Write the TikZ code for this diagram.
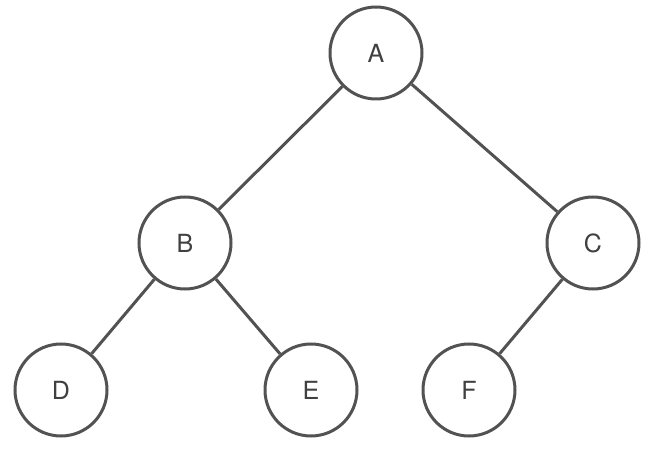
\documentclass[tikz,border=0pt]{standalone}
\usepackage{fontspec}
\setmainfont{TeX Gyre Heros}
\begin{document}
\begin{tikzpicture}[x=1pt,y=-1pt,
  vert/.style={circle,draw=black!68,line width=3pt,minimum size=92pt,inner sep=0pt,fill=white,font=\fontsize{25}{29}\selectfont,text=black!75},
  edge/.style={draw=black!68,line width=3pt}]
\useasboundingbox (0,0) rectangle (667,449);
\node[vert] (A) at (376,53) {A};
\node[vert] (B) at (185,243) {B};
\node[vert] (C) at (593,243) {C};
\node[vert] (D) at (61,390) {D};
\node[vert] (E) at (311,390) {E};
\node[vert] (F) at (469,390) {F};
\draw[edge] (A) -- (B);
\draw[edge] (A) -- (C);
\draw[edge] (B) -- (D);
\draw[edge] (B) -- (E);
\draw[edge] (C) -- (F);
\end{tikzpicture}
\end{document}
